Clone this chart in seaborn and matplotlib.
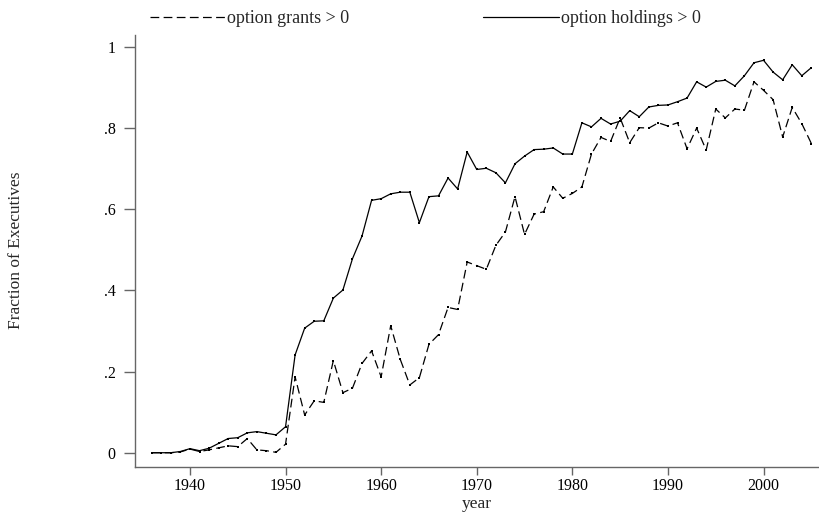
import numpy as np
import pandas as pd
import matplotlib.pyplot as plt
import seaborn as sns
from matplotlib.lines import Line2D

years = list(range(1936, 2006))

# fraction of executives with option grants > 0
grants = [0.000, 0.000, 0.000, 0.002, 0.009, 0.003, 0.007, 0.012, 0.017, 0.015,
          0.035, 0.007, 0.005, 0.001, 0.021, 0.187, 0.093, 0.128, 0.124, 0.227,
          0.148, 0.159, 0.220, 0.251, 0.187, 0.313, 0.230, 0.167, 0.185, 0.267,
          0.291, 0.358, 0.353, 0.470, 0.461, 0.452, 0.511, 0.544, 0.631, 0.538,
          0.588, 0.594, 0.655, 0.627, 0.639, 0.655, 0.736, 0.777, 0.767, 0.825,
          0.764, 0.801, 0.800, 0.813, 0.805, 0.813, 0.749, 0.800, 0.746, 0.847,
          0.825, 0.847, 0.844, 0.914, 0.893, 0.870, 0.778, 0.851, 0.811, 0.762]

# fraction of executives with option holdings > 0
holdings = [0.000, 0.000, 0.000, 0.003, 0.010, 0.005, 0.011, 0.023, 0.035, 0.037,
            0.049, 0.052, 0.048, 0.044, 0.064, 0.241, 0.307, 0.324, 0.325, 0.381,
            0.401, 0.478, 0.534, 0.622, 0.626, 0.638, 0.642, 0.642, 0.567, 0.631,
            0.633, 0.677, 0.650, 0.741, 0.698, 0.701, 0.690, 0.665, 0.712, 0.731,
            0.747, 0.748, 0.751, 0.736, 0.736, 0.813, 0.803, 0.824, 0.810, 0.817,
            0.843, 0.828, 0.852, 0.856, 0.857, 0.865, 0.874, 0.914, 0.901, 0.915,
            0.918, 0.904, 0.929, 0.961, 0.967, 0.938, 0.919, 0.956, 0.929, 0.949]

series_labels = ['option grants > 0', 'option holdings > 0']
ytick_vals = [0, 0.2, 0.4, 0.6, 0.8, 1]
ytick_labels = ['0', '.2', '.4', '.6', '.8', '1']
xtick_vals = [1940, 1950, 1960, 1970, 1980, 1990, 2000]

df = pd.DataFrame({'year': years, 'grants': grants, 'holdings': holdings})

sns.set_style('white')
plt.rcParams['font.family'] = ['Liberation Serif', 'DejaVu Serif']

fig = plt.figure(figsize=(8.19, 5.17), dpi=100)
ax = fig.add_axes([0.1648, 0.0967, 0.8352, 0.8353])

axis_col = '#666666'
dash = (0, (7, 3.5))
sns.lineplot(data=df, x='year', y='grants', ax=ax, color='black', lw=0.9,
             marker='s', markersize=2.0, markeredgewidth=0, linestyle=dash)
sns.lineplot(data=df, x='year', y='holdings', ax=ax, color='black', lw=0.9,
             marker='s', markersize=2.0, markeredgewidth=0)

ax.set_xlim(1934.25, 2005.8)
ax.set_ylim(-0.0352, 1.029)
ax.set_xticks(xtick_vals)
ax.set_yticks(ytick_vals)
ax.set_yticklabels(ytick_labels)
ax.tick_params(axis='both', bottom=True, left=True, labelsize=11.5,
               colors=axis_col, labelcolor='black')
ax.tick_params(axis='y', length=8, width=1, pad=6)
ax.tick_params(axis='x', length=6, width=1, pad=2)

for side in ['top', 'right']:
    ax.spines[side].set_visible(False)
for side in ['left', 'bottom']:
    ax.spines[side].set_color(axis_col)
    ax.spines[side].set_linewidth(1)

ax.set_xlabel('year', fontsize=12.5, labelpad=1)
ax.set_ylabel('')
fig.text(0.02, 0.516, 'Fraction of Executives', rotation=90, fontsize=12.5,
         ha='center', va='center')

handles = [Line2D([], [], color='black', lw=0.9, linestyle=dash),
           Line2D([], [], color='black', lw=0.9)]
fig.legend(handles, series_labels, loc='upper left', bbox_to_anchor=(0.163, 1.012),
           ncol=2, frameon=False, fontsize=13, handlelength=4.2,
           handletextpad=0.1, columnspacing=7.4)

fig.savefig('out.png', dpi=100)
